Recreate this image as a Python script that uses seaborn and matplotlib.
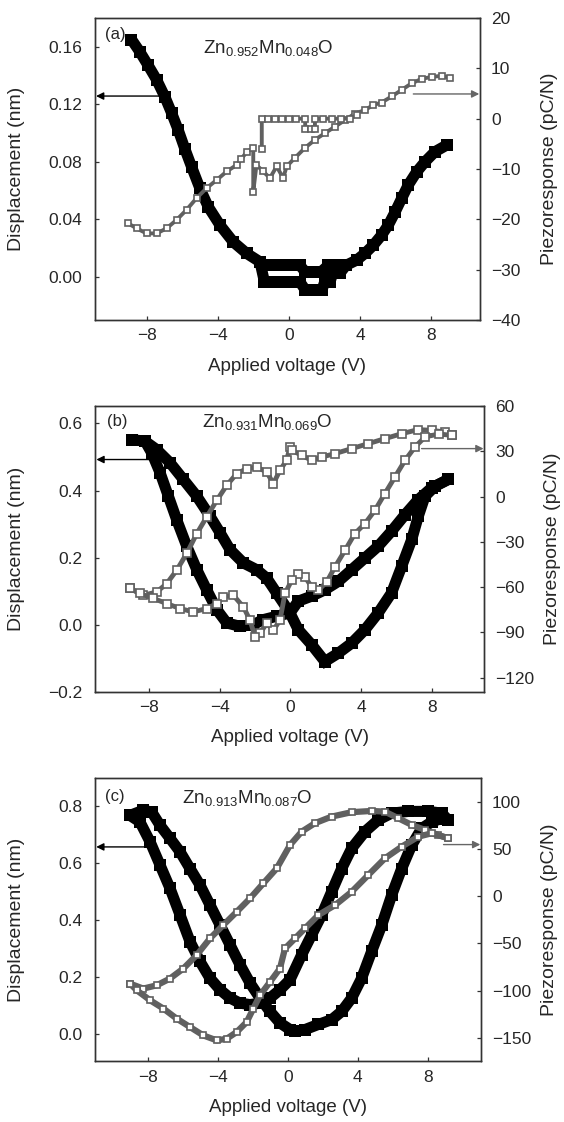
import numpy as np
import pandas as pd
import matplotlib
matplotlib.use("Agg")
import matplotlib.pyplot as plt
import seaborn as sns
from matplotlib.ticker import FuncFormatter, MultipleLocator

sns.set_style("ticks")
plt.rcParams["font.family"] = ["Liberation Sans", "DejaVu Sans"]
plt.rcParams["mathtext.fontset"] = "custom"
plt.rcParams["mathtext.rm"] = "Liberation Sans"
plt.rcParams["mathtext.it"] = "Liberation Sans:italic"
plt.rcParams["mathtext.default"] = "regular"

# ---------------- data: panel (a) Zn0.952Mn0.048O ----------------
disp_a_main_v = [-8.9, -8.43, -7.96, -7.48, -7.01, -6.64, -6.26, -5.89, -5.51, -5.04, -4.57, -3.91,
                 -3.16, -2.40, -1.65, -1.3, -0.8, -0.3, 0.2, 0.6, 0.9, 1.3, 1.8, 2.2, 2.7, 3.2, 3.8,
                 4.27, 4.74, 5.21, 5.59, 5.97, 6.34, 6.72, 7.19, 7.66, 8.22, 8.88]
disp_a_main_d = [0.165, 0.1565, 0.147, 0.137, 0.125, 0.114, 0.102, 0.089, 0.0765, 0.0615, 0.0487, 0.036,
                 0.0243, 0.0163, 0.0104, 0.008, 0.008, 0.008, 0.008, 0.008, 0.0035, 0.0035, 0.0035, 0.008,
                 0.008, 0.008, 0.0116, 0.0163, 0.022, 0.029, 0.036, 0.045, 0.0545, 0.064, 0.073, 0.080,
                 0.087, 0.0916]
disp_a_low_v = [-1.65, -1.4, -0.9, -0.4, 0.1, 0.6, 0.9, 1.4, 1.85, 2.0, 2.3, 2.45, 2.85, 3.2]
disp_a_low_d = [0.0104, -0.0035, -0.0035, -0.0035, -0.0035, -0.0035, -0.009, -0.009, -0.009,
                -0.0035, -0.0035, 0.0024, 0.0024, 0.008]

piezo_a_v = [-9.09, -8.61, -8.05, -7.48, -6.92, -6.35, -5.79, -5.23, -4.66, -4.10, -3.53, -2.97, -2.7,
             -2.4, -2.03, -2.03, -1.85, -1.47, -1.09, -0.71, -0.34, -0.15, 0.32, 0.89, 1.45, 2.01, 2.58,
             3.14, 3.7, 4.27, 4.74, 5.21, 5.78, 6.34, 6.9, 7.47, 8.04, 8.6, 9.07]
piezo_a_p = [-20.8, -21.8, -22.8, -22.8, -21.8, -20.1, -18.1, -15.8, -13.8, -12.2, -10.5, -9.2, -8.0,
             -6.6, -5.9, -14.5, -9.2, -10.5, -11.8, -9.5, -11.8, -9.5, -7.8, -5.8, -4.2, -2.9, -1.6,
             -0.3, 1.0, 1.7, 2.7, 3.2, 4.4, 5.7, 7.0, 7.9, 8.3, 8.5, 8.1]
piezo_a_step_v = [-1.55, -1.55, -1.2, -0.8, -0.4, 0.0, 0.4, 0.9, 0.9, 1.2, 1.45, 1.45, 1.9, 2.4, 2.9,
                  3.4, 3.8]
piezo_a_step_p = [-6.0, 0.0, 0.0, 0.0, 0.0, 0.0, 0.0, 0.0, -2.0, -2.0, -2.0, 0.0, 0.0, 0.0, 0.0, 0.0, 0.7]

# ---------------- data: panel (b) Zn0.931Mn0.069O ----------------
disp_b_outer_v = [-9.0, -8.24, -7.58, -6.83, -6.07, -5.31, -4.56, -3.99, -3.43, -2.67, -1.92, -1.35,
                  -0.78, -0.03, 0.44, 1.2, 1.95, 2.71, 3.47, 4.22, 4.97, 5.73, 6.3, 6.87, 7.24, 7.62,
                  8.19, 8.94]
disp_b_outer_d = [0.552, 0.547, 0.522, 0.483, 0.433, 0.383, 0.323, 0.274, 0.224, 0.184, 0.164, 0.139,
                  0.094, 0.035, -0.015, -0.06, -0.11, -0.085, -0.055, -0.015, 0.035, 0.095, 0.174,
                  0.254, 0.323, 0.383, 0.413, 0.433]
disp_b_inner_v = [-8.24, -7.86, -7.39, -6.92, -6.45, -5.88, -5.31, -4.75, -4.18, -3.61, -2.86, -2.11,
                  -1.54, -0.78, -0.03, 0.44, 1.2, 1.95, 2.71, 3.47, 4.22, 4.97, 5.73, 6.49, 7.24, 8.0,
                  8.94]
disp_b_inner_d = [0.547, 0.512, 0.453, 0.383, 0.313, 0.234, 0.164, 0.104, 0.045, 0.005, -0.005, 0.0,
                  0.015, 0.025, 0.035, 0.07, 0.085, 0.104, 0.129, 0.164, 0.199, 0.234, 0.279, 0.328,
                  0.373, 0.408, 0.433]

piezo_b_up_v = [-9.09, -8.34, -7.58, -7.01, -6.45, -5.88, -5.31, -4.75, -4.18, -3.61, -3.05, -2.48,
                -1.92, -1.35, -0.97, -0.6, -0.22, -0.03, 0.07, 0.63, 1.2, 1.77, 2.52, 3.47, 4.41, 5.35,
                6.3, 7.24, 8.0, 8.75, 9.13]
piezo_b_up_p = [-60.9, -65.4, -63.2, -57.6, -48.8, -37.7, -24.5, -13.5, -2.5, 7.5, 15.2, 18.5, 19.6,
                16.3, 8.6, 17.4, 24.0, 32.8, 30.7, 27.4, 24.0, 26.2, 28.5, 31.8, 35.1, 38.4, 41.7, 44.4,
                43.9, 42.8, 40.6]
piezo_b_down_v = [9.13, 8.4, 7.62, 7.05, 6.49, 5.92, 5.35, 4.79, 4.22, 3.65, 3.09, 2.52, 2.05, 1.58,
                  1.2, 0.82, 0.44, 0.07, -0.31, -0.6, -0.97, -1.35, -1.73, -2.01, -2.29, -2.67, -3.24,
                  -3.81, -4.18, -4.75, -5.51, -6.26, -7.01, -7.77, -8.53, -9.09]
piezo_b_down_p = [40.6, 41.5, 39.5, 32.8, 24.0, 13.0, 2.0, -9.0, -17.9, -24.5, -35.6, -46.6, -56.6,
                  -62.0, -59.9, -53.2, -51.0, -55.4, -64.2, -82.0, -88.5, -84.0, -90.7, -93.0, -82.0,
                  -73.1, -65.4, -66.5, -70.9, -74.2, -76.4, -74.2, -70.9, -67.5, -64.2, -60.9]

# ---------------- data: panel (c) Zn0.913Mn0.087O ----------------
disp_c_outer_v = [-9.02, -8.26, -7.78, -7.3, -6.73, -6.16, -5.59, -5.02, -4.45, -3.87, -3.3, -2.73,
                  -2.16, -1.59, -1.02, -0.45, 0.13, 0.41, 0.98, 1.74, 2.51, 3.08, 3.65, 4.22, 4.79,
                  5.37, 5.94, 6.51, 7.08, 7.65, 8.22, 8.79, 9.17]
disp_c_outer_d = [0.768, 0.786, 0.78, 0.733, 0.687, 0.64, 0.581, 0.523, 0.453, 0.382, 0.312, 0.242,
                  0.178, 0.125, 0.078, 0.0375, 0.014, 0.008, 0.014, 0.032, 0.049, 0.078, 0.125, 0.195,
                  0.289, 0.382, 0.488, 0.581, 0.663, 0.722, 0.745, 0.757, 0.751]
disp_c_inner_v = [-9.02, -8.45, -7.87, -7.3, -6.73, -6.16, -5.59, -5.02, -4.45, -3.87, -3.3, -2.73,
                  -2.16, -1.59, -1.02, -0.45, 0.13, 0.79, 1.36, 1.94, 2.51, 3.08, 3.65, 4.41, 5.17,
                  5.94, 6.89, 8.03, 8.79, 9.17]
disp_c_inner_d = [0.768, 0.745, 0.675, 0.593, 0.511, 0.418, 0.324, 0.254, 0.195, 0.154, 0.125, 0.107,
                  0.102, 0.107, 0.125, 0.154, 0.19, 0.277, 0.347, 0.418, 0.5, 0.581, 0.652, 0.711,
                  0.752, 0.776, 0.782, 0.782, 0.776, 0.751]

piezo_c_up_v = [-9.02, -8.26, -7.49, -6.73, -5.97, -5.21, -4.45, -3.69, -2.92, -2.16, -1.4, -0.63,
                0.13, 0.79, 1.55, 2.51, 3.65, 4.79, 5.55, 6.31, 7.08, 7.84, 8.6, 9.17]
piezo_c_up_p = [-92.6, -97.9, -94.4, -87.2, -76.6, -62.4, -44.7, -30.5, -16.4, -2.1, 13.8, 29.8, 54.6,
                68.7, 77.7, 84.7, 89.4, 90.7, 90.0, 83.0, 75.9, 70.5, 65.2, 61.7]
piezo_c_down_v = [9.17, 8.22, 7.46, 6.51, 5.55, 4.6, 3.65, 2.7, 1.74, 0.98, 0.41, -0.16, -0.45, -1.02,
                  -1.59, -1.97, -2.35, -2.92, -3.49, -4.06, -4.83, -5.59, -6.35, -7.11, -7.87, -8.63,
                  -9.02]
piezo_c_down_p = [61.7, 67.0, 63.4, 52.8, 40.4, 22.7, 4.9, -9.3, -19.9, -34.0, -44.7, -55.3, -76.6,
                  -90.9, -105.0, -119.1, -133.4, -144.0, -151.1, -152.9, -147.6, -138.7, -129.8,
                  -119.1, -110.3, -99.7, -92.6]

x_ticks = [-8, -4, 0, 4, 8]
panel_tags = ["(a)", "(b)", "(c)"]
formulas = [r"Zn$_{0.952}$Mn$_{0.048}$O", r"Zn$_{0.931}$Mn$_{0.069}$O", r"Zn$_{0.913}$Mn$_{0.087}$O"]
xlabel_text = "Applied voltage (V)"
ylabel_left = "Displacement (nm)"
ylabel_right = "Piezoresponse (pC/N)"

BLACK = "#000000"
GRAY = "#606060"
SPINE = "#333333"


def minus_fmt(fmt):
    return FuncFormatter(lambda val, pos: (fmt % val).replace("-", "\u2212"))


panels = [
    dict(pos=[0.1684, 0.7148, 0.6826, 0.2692], xlim=(-10.96, 10.76), ylim=(-0.03, 0.18),
         yticks=[0.0, 0.04, 0.08, 0.12, 0.16], yfmt="%.2f", y2lim=(-40, 20), y2step=10,
         disp=[(disp_a_main_v, disp_a_main_d), (disp_a_low_v, disp_a_low_d)],
         piezo=[(piezo_a_v, piezo_a_p), (piezo_a_step_v, piezo_a_step_p)],
         plw=2.8, pms=5.0,
         larrow=((-7.2, 0.1257), (-10.9, 0.1257)), rarrow=((7.0, 4.9), (10.72, 4.9)),
         tag=(0.026, 0.944), form=(0.28, 0.884), ylab_l=-0.182, ylab_r=1.158, xlab=-0.126),
    dict(pos=[0.1684, 0.3835, 0.6902, 0.2546], xlim=(-11.08, 10.98), ylim=(-0.2, 0.652),
         yticks=[-0.2, 0.0, 0.2, 0.4, 0.6], yfmt="%.1f", y2lim=(-129.3, 60), y2step=30,
         disp=[(disp_b_outer_v, disp_b_outer_d), (disp_b_inner_v, disp_b_inner_d)],
         piezo=[(piezo_b_up_v, piezo_b_up_p), (piezo_b_down_v, piezo_b_down_p)],
         plw=3.5, pms=5.5,
         larrow=((-7.96, 0.4925), (-11.0, 0.4925)), rarrow=((7.43, 31.8), (10.94, 31.8)),
         tag=(0.03, 0.947), form=(0.274, 0.9275), ylab_l=-0.18, ylab_r=1.153, xlab=-0.13),
    dict(pos=[0.1684, 0.0540, 0.6844, 0.2527], xlim=(-11.02, 11.04), ylim=(-0.098, 0.9),
         yticks=[0.0, 0.2, 0.4, 0.6, 0.8], yfmt="%.1f", y2lim=(-175.2, 125.8), y2step=50,
         disp=[(disp_c_outer_v, disp_c_outer_d), (disp_c_inner_v, disp_c_inner_d)],
         piezo=[(piezo_c_up_v, piezo_c_up_p), (piezo_c_down_v, piezo_c_down_p)],
         plw=4.5, pms=5.0,
         larrow=((-7.87, 0.657), (-10.95, 0.657)), rarrow=((8.9, 55.0), (11.0, 55.0)),
         tag=(0.026, 0.936), form=(0.2246, 0.912), ylab_l=-0.181, ylab_r=1.155, xlab=-0.131),
]

fig = plt.figure(figsize=(5.64, 11.22), dpi=100)

for i, p in enumerate(panels):
    ax = fig.add_axes(p["pos"])
    ax2 = ax.twinx()
    for v, d in p["disp"]:
        df = pd.DataFrame({"V": v, "D": d})
        sns.lineplot(data=df, x="V", y="D", ax=ax, sort=False, estimator=None, color=BLACK,
                     lw=8, marker="s", markersize=9, markeredgewidth=0, solid_joinstyle="miter")
    for v, q in p["piezo"]:
        df = pd.DataFrame({"V": v, "P": q})
        sns.lineplot(data=df, x="V", y="P", ax=ax2, sort=False, estimator=None, color=GRAY,
                     lw=p["plw"], marker="s", markersize=p["pms"], markerfacecolor="white",
                     markeredgecolor=GRAY, markeredgewidth=1.2)
    ax.set_xlim(*p["xlim"])
    ax.set_ylim(*p["ylim"])
    ax2.set_ylim(*p["y2lim"])
    ax.set_xticks(x_ticks)
    ax.set_yticks(p["yticks"])
    ax.yaxis.set_major_formatter(minus_fmt(p["yfmt"]))
    ax2.yaxis.set_major_locator(MultipleLocator(p["y2step"]))
    ax2.yaxis.set_major_formatter(minus_fmt("%d"))

    for a in (ax, ax2):
        for s in a.spines.values():
            s.set_color(SPINE)
            s.set_linewidth(1.0)
            s.set_visible(True)
    ax.tick_params(axis="x", direction="in", length=3, width=0.9, color=SPINE, labelsize=12.5, pad=6)
    ax.tick_params(axis="y", direction="in", length=3, width=0.9, color=SPINE, labelsize=12.5, pad=9)
    ax2.tick_params(axis="y", direction="in", length=3, width=0.9, color=SPINE, labelsize=12.5, pad=8)

    ax.set_xlabel(xlabel_text, fontsize=13.5)
    ax.set_ylabel(ylabel_left, fontsize=14)
    ax2.set_ylabel(ylabel_right, fontsize=14)
    ax.xaxis.set_label_coords(0.5, p["xlab"])
    ax.yaxis.set_label_coords(p["ylab_l"], 0.5)
    ax2.yaxis.set_label_coords(p["ylab_r"], 0.5)

    (tx, ty), (hx, hy) = p["larrow"]
    ax.annotate("", xy=(hx, hy), xytext=(tx, ty),
                arrowprops=dict(arrowstyle="-|>", color=BLACK, lw=1.0, mutation_scale=11,
                                shrinkA=0, shrinkB=0), annotation_clip=False)
    (tx, ty), (hx, hy) = p["rarrow"]
    ax2.annotate("", xy=(hx, hy), xytext=(tx, ty),
                 arrowprops=dict(arrowstyle="-|>", color="#666666", lw=1.0, mutation_scale=11,
                                 shrinkA=0, shrinkB=0), annotation_clip=False)

    ax.text(p["tag"][0], p["tag"][1], panel_tags[i], transform=ax.transAxes, fontsize=12,
            ha="left", va="center")
    ax.text(p["form"][0], p["form"][1], formulas[i], transform=ax.transAxes, fontsize=13.5,
            ha="left", va="baseline")

fig.savefig("out.png", dpi=100)
